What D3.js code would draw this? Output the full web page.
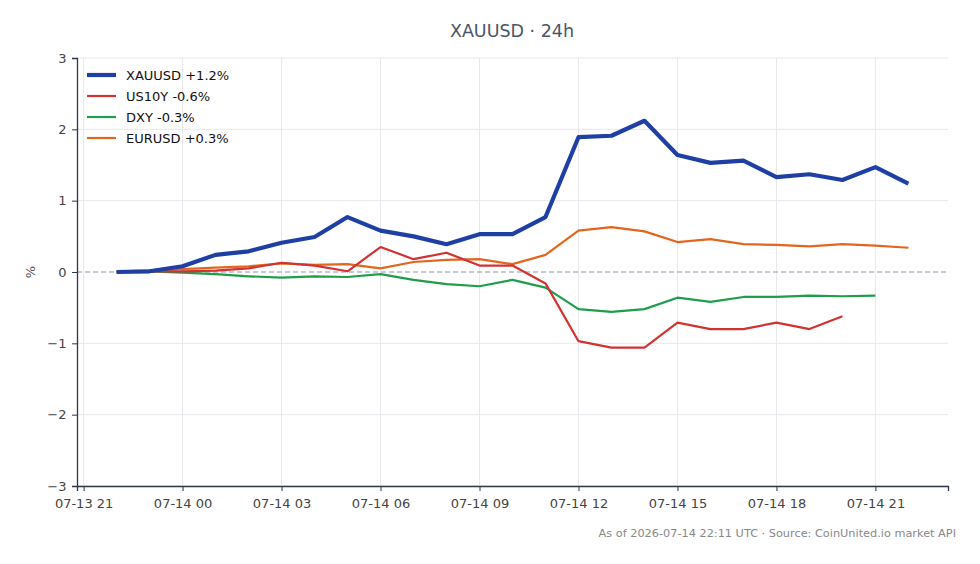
<!DOCTYPE html>
<html>
<head>
<meta charset="utf-8">
<script src="https://cdn.jsdelivr.net/npm/d3@7"></script>
<style>
  body { margin: 0; background: #fff; }
  svg text { font-family: "DejaVu Sans", sans-serif; }
</style>
</head>
<body>
<div id="chart"></div>
<script>
// hourly readings, 07-13 22:00 UTC -> 07-14 22:00 UTC
const startTime = Date.UTC(2026, 6, 13, 22);
const hourMs = 3600 * 1000;

const xauusd = [0.00, 0.01, 0.08, 0.24, 0.29, 0.41, 0.49, 0.77, 0.58, 0.50, 0.39, 0.53, 0.53,
  0.77, 1.89, 1.91, 2.12, 1.64, 1.53, 1.56, 1.33, 1.37, 1.29, 1.47, 1.24];
const us10y = [0.00, 0.01, 0.01, 0.02, 0.05, 0.13, 0.09, 0.01, 0.35, 0.18, 0.27, 0.09, 0.09,
  -0.16, -0.97, -1.06, -1.06, -0.71, -0.80, -0.80, -0.71, -0.80, -0.62];
const dxy = [0.00, 0.01, -0.01, -0.03, -0.06, -0.08, -0.06, -0.07, -0.03, -0.11, -0.17, -0.20, -0.11,
  -0.22, -0.52, -0.56, -0.52, -0.36, -0.42, -0.35, -0.35, -0.33, -0.34, -0.33];
const eurusd = [0.01, 0.02, 0.04, 0.06, 0.08, 0.12, 0.10, 0.11, 0.05, 0.14, 0.17, 0.18, 0.11,
  0.24, 0.58, 0.63, 0.57, 0.42, 0.46, 0.39, 0.38, 0.36, 0.39, 0.37, 0.34];

const seriesNames = ["XAUUSD +1.2%", "US10Y -0.6%", "DXY -0.3%", "EURUSD +0.3%"];
const yTicks = [-3, -2, -1, 0, 1, 2, 3];

const series = [
  { name: seriesNames[0], values: xauusd, color: "#1e3fa3", width: 4.2 },
  { name: seriesNames[1], values: us10y, color: "#d23232", width: 2.2 },
  { name: seriesNames[2], values: dxy, color: "#1f9d4a", width: 2.2 },
  { name: seriesNames[3], values: eurusd, color: "#e2661e", width: 2.2 }
];
series.forEach(s => {
  s.points = s.values.map((v, i) => ({ t: new Date(startTime + i * hourMs), v }));
});

const W = 980, H = 564;
const margin = { top: 58, right: 32, bottom: 78, left: 77 },
  width = W - margin.left - margin.right,
  height = H - margin.top - margin.bottom;

const svg = d3.select("#chart")
  .append("svg")
  .attr("width", W)
  .attr("height", H);

const g = svg.append("g")
  .attr("transform", `translate(${margin.left},${margin.top})`);

// 5% padding either side of the 24h span
const t0 = startTime, t1 = startTime + 24 * hourMs, pad = (t1 - t0) * 0.05;
const x = d3.scaleUtc()
  .domain([new Date(t0 - pad), new Date(t1 + pad)])
  .range([0, width]);

const y = d3.scaleLinear()
  .domain([-3, 3])
  .range([height, 0]);

const xTicks = x.ticks(d3.utcHour.every(3));

// grid
g.append("g")
  .selectAll("line")
  .data(xTicks)
  .join("line")
  .attr("x1", d => x(d)).attr("x2", d => x(d))
  .attr("y1", 0).attr("y2", height)
  .attr("stroke", "#e8e8ec").attr("stroke-width", 1);

g.append("g")
  .selectAll("line")
  .data(yTicks.filter(d => d !== 0))
  .join("line")
  .attr("x1", 0).attr("x2", width)
  .attr("y1", d => y(d)).attr("y2", d => y(d))
  .attr("stroke", "#e8e8ec").attr("stroke-width", 1);

// zero line
g.append("line")
  .attr("x1", 0).attr("x2", width)
  .attr("y1", y(0)).attr("y2", y(0))
  .attr("stroke", "#8a98b0")
  .attr("stroke-width", 1.2)
  .attr("stroke-dasharray", "5,3");

// axes
const xAxis = g.append("g")
  .attr("transform", `translate(0,${height})`)
  .call(d3.axisBottom(x).tickValues(xTicks).tickFormat(d3.utcFormat("%m-%d %H")).tickSizeOuter(0).tickSize(5));

const yAxis = g.append("g")
  .call(d3.axisLeft(y).tickValues(yTicks).tickFormat(d => d < 0 ? "\u2212" + Math.abs(d) : d).tickSizeOuter(0).tickSize(5));

[xAxis, yAxis].forEach(a => {
  a.select(".domain").attr("stroke", "#2d3748").attr("stroke-width", 1.3);
  a.selectAll(".tick line").attr("stroke", "#2d3748");
  a.selectAll(".tick text").attr("fill", "#444").style("font-size", "13px");
});
xAxis.selectAll(".tick text").attr("dy", "1.1em");
yAxis.selectAll(".tick text").attr("dx", "-0.2em");

// lines
const line = d3.line()
  .x(d => x(d.t))
  .y(d => y(d.v));

g.append("g")
  .selectAll("path")
  .data(series.slice().reverse())
  .join("path")
  .attr("d", d => line(d.points))
  .attr("fill", "none")
  .attr("stroke", d => d.color)
  .attr("stroke-width", d => d.width)
  .attr("stroke-linejoin", "round");

// legend
const legend = g.selectAll(".legend")
  .data(series)
  .join("g")
  .attr("transform", (d, i) => `translate(10, ${17 + i * 21})`);

legend.append("line")
  .attr("x1", 0).attr("x2", 29)
  .attr("stroke", d => d.color)
  .attr("stroke-width", d => d.width);

legend.append("text")
  .attr("x", 39)
  .attr("dy", "0.35em")
  .style("font-size", "13px")
  .attr("fill", "#111")
  .text(d => d.name);

// title
svg.append("text")
  .attr("x", 512)
  .attr("y", 37)
  .attr("text-anchor", "middle")
  .style("font-size", "17.5px")
  .attr("fill", "#4a5568")
  .text("XAUUSD \u00b7 24h");

// Y label
svg.append("text")
  .attr("text-anchor", "middle")
  .attr("transform", `translate(35,${margin.top + y(0)})rotate(-90)`)
  .style("font-size", "13px")
  .attr("fill", "#555")
  .text("%");

// footer
svg.append("text")
  .attr("x", 956)
  .attr("y", 537)
  .attr("text-anchor", "end")
  .style("font-size", "11.3px")
  .attr("fill", "#888")
  .text("As of 2026-07-14 22:11 UTC \u00b7 Source: CoinUnited.io market API");
</script>
</body>
</html>
